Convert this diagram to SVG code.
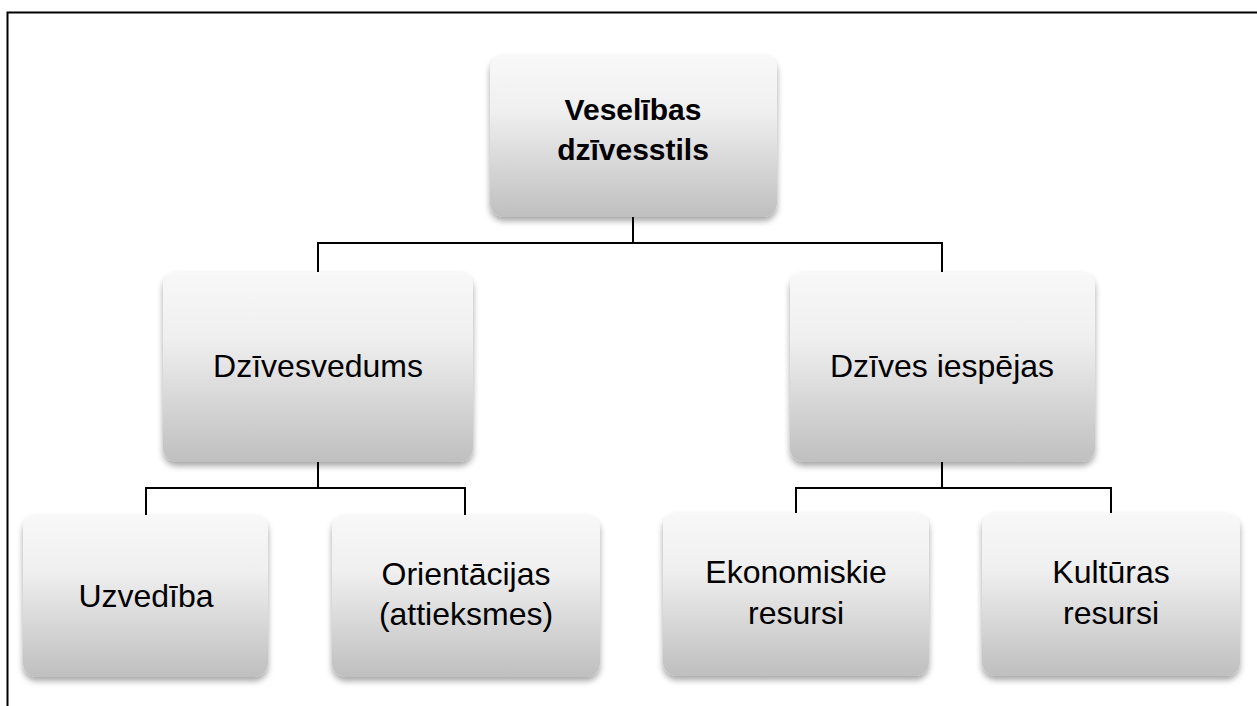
<svg xmlns="http://www.w3.org/2000/svg" width="1257" height="706" viewBox="0 0 1257 706">
<style>
.box{fill:url(#g);filter:url(#sh)}
.t{font-family:"Liberation Sans",Arial,sans-serif;font-size:32px;fill:#000;text-anchor:middle}
.b{font-weight:bold;font-size:30px}
.c{fill:none;stroke:#000;stroke-width:2}
</style>
<defs>
<linearGradient id="g" x1="0" y1="0" x2="0" y2="1">
<stop offset="0" stop-color="#f8f8f8"/>
<stop offset="0.35" stop-color="#efefef"/>
<stop offset="1" stop-color="#bfbfbf"/>
</linearGradient>
<filter id="sh" x="-10%" y="-10%" width="120%" height="130%">
<feDropShadow dx="0" dy="4" stdDeviation="3" flood-color="#000" flood-opacity="0.35"/>
</filter>
</defs>
<rect width="1257" height="706" fill="#fff"/>
<path d="M7.5 706V12.5H1257" fill="none" stroke="#000" stroke-width="2"/>
<g id="connectors">
<path class="c" d="M633 217V243M318 272V243H942V272"/>
<path class="c" d="M318 462V488M146 515V488H465V515"/>
<path class="c" d="M942 462V488M796 513V488H1111V513"/>
</g>
<g id="n-top"><rect class="box" x="490" y="55" width="287" height="162" rx="14"/>
<text class="t b" x="633" y="120">Veselības</text><text class="t b" x="633" y="160">dzīvesstils</text></g>
<g id="n-dzivesvedums"><rect class="box" x="163" y="272" width="310" height="190" rx="14"/>
<text class="t" x="318" y="377">Dzīvesvedums</text></g>
<g id="n-dzives-iespejas"><rect class="box" x="790" y="272" width="305" height="190" rx="14"/>
<text class="t" x="942" y="377">Dzīves iespējas</text></g>
<g id="n-uzvediba"><rect class="box" x="23" y="515" width="245" height="162" rx="14"/>
<text class="t" x="146" y="607">Uzvedība</text></g>
<g id="n-orientacijas"><rect class="box" x="332" y="515" width="268" height="162" rx="14"/>
<text class="t" x="466" y="585">Orientācijas</text><text class="t" x="466" y="625">(attieksmes)</text></g>
<g id="n-ekonomiskie"><rect class="box" x="663" y="513" width="266" height="163" rx="14"/>
<text class="t" x="796" y="583">Ekonomiskie</text><text class="t" x="796" y="624">resursi</text></g>
<g id="n-kulturas"><rect class="box" x="982" y="513" width="258" height="163" rx="14"/>
<text class="t" x="1111" y="583">Kultūras</text><text class="t" x="1111" y="624">resursi</text></g>
</svg>
